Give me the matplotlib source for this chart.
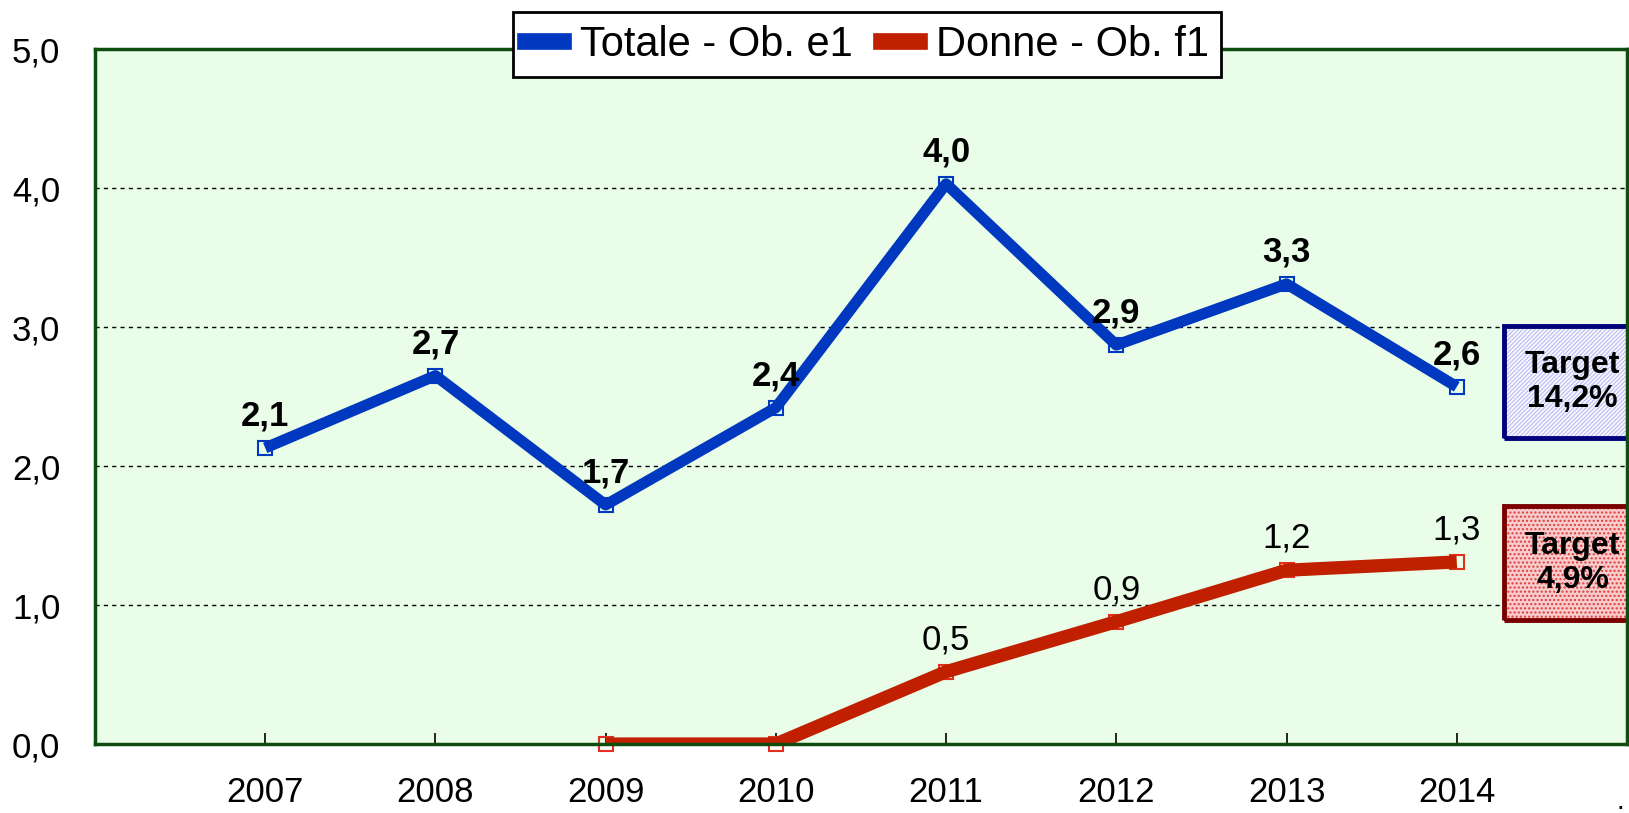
import matplotlib
matplotlib.use("Agg")
import matplotlib.pyplot as plt
from matplotlib.patches import Rectangle
from matplotlib.lines import Line2D

plt.rcParams['font.family'] = ['Liberation Sans', 'DejaVu Sans']

years = ["2007", "2008", "2009", "2010", "2011", "2012", "2013", "2014"]
totale = [2.13, 2.65, 1.72, 2.42, 4.03, 2.87, 3.31, 2.57]
totale_labels = ["2,1", "2,7", "1,7", "2,4", "4,0", "2,9", "3,3", "2,6"]
donne_years = ["2009", "2010", "2011", "2012", "2013", "2014"]
donne = [0.0, 0.0, 0.52, 0.88, 1.25, 1.31]
donne_labels = ["", "", "0,5", "0,9", "1,2", "1,3"]
yticks = [0, 1, 2, 3, 4, 5]
ytick_labels = ["0,0", "1,0", "2,0", "3,0", "4,0", "5,0"]
series_names = ["Totale - Ob. e1", "Donne - Ob. f1"]
target_texts = ["Target\n14,2%", "Target\n4,9%"]

BLUE = "#0038bf"
RED = "#c01f00"

fig = plt.figure(figsize=(16.29, 8.13), dpi=100)
ax = fig.add_axes([95/1629, 69/813, (1627-95)/1629, (744-49)/813])
ax.set_facecolor("#e9fde9")

xt = list(range(1, len(years) + 1))
xd = [years.index(y) + 1 for y in donne_years]

for g in yticks[1:-1]:
    ax.axhline(g, color="black", lw=1.0, ls=(0, (3, 3)), zorder=1)

ax.plot(xt, totale, color=BLUE, lw=8, zorder=4, solid_capstyle="butt")
ax.plot(xt, totale, ls="none", marker="s", ms=10.5, mfc="none", mec=BLUE, mew=1.5,
        zorder=3, clip_on=False)
ax.plot(xd, donne, color=RED, lw=9.5, zorder=4, solid_capstyle="butt")
ax.plot(xd, donne, ls="none", marker="s", ms=10.5, mfc="none", mec="#e03020", mew=1.5,
        zorder=3, clip_on=False)

for x, v, t in zip(xt, totale, totale_labels):
    ax.annotate(t, (x, v), xytext=(0, 11), textcoords="offset points",
                ha="center", va="bottom", fontsize=25, fontweight="bold", zorder=6)
for x, v, t in zip(xd, donne, donne_labels):
    if t:
        ax.annotate(t, (x, v), xytext=(0, 11), textcoords="offset points",
                    ha="center", va="bottom", fontsize=25, zorder=6)

ax.set_xlim(0, 9)
ax.set_ylim(0, 5)
ax.set_xticks(xt)
ax.set_xticklabels(years, fontsize=25)
ax.set_yticks(yticks)
ax.set_yticklabels(ytick_labels, fontsize=25)
ax.tick_params(axis="x", direction="in", length=8, width=1.2, color="black", pad=23)
ax.tick_params(axis="y", length=0, pad=25)
for s in ax.spines.values():
    s.set_color("#0e4d0e")
    s.set_linewidth(2.5)
    s.set_zorder(7)

# Target boxes
boxes = [
    (8.28, 2.20, 3.01, "#c6c6f6", "white", "////////", "#00007a"),
    (8.28, 0.89, 1.715, "#f6cccc", "#e03a3a", "....", "#7a0000"),
]
for (x0, y0, y1, fc, hc, hatch, ec), txt in zip(boxes, target_texts):
    w = 9.05 - x0
    ax.add_patch(Rectangle((x0, y0), w, y1 - y0, facecolor=fc, edgecolor=hc,
                           hatch=hatch, lw=0, zorder=5, clip_on=False))
    ax.add_patch(Rectangle((x0, y0), w, y1 - y0, facecolor="none", edgecolor=ec,
                           lw=3.5, zorder=5, clip_on=False))
    ax.text(8.68, (y0 + y1) / 2, txt, ha="center", va="center", fontsize=23,
            fontweight="bold", linespacing=1.2, zorder=6)

handles = [Line2D([], [], color=BLUE, lw=12), Line2D([], [], color=RED, lw=12)]
leg = fig.legend(handles, series_names, loc="center", bbox_to_anchor=(867/1629, 1 - 45/813),
                 ncol=2, fontsize=30, frameon=True, fancybox=False, edgecolor="black",
                 framealpha=1, handlelength=0.9, handletextpad=0.4, columnspacing=0.7,
                 borderpad=0.3, borderaxespad=0)
leg.get_frame().set_linewidth(2)

fig.text(1620/1629, 1 - 809/813, ".", fontsize=20, ha="center", va="baseline")

fig.savefig("out.png", dpi=100)
